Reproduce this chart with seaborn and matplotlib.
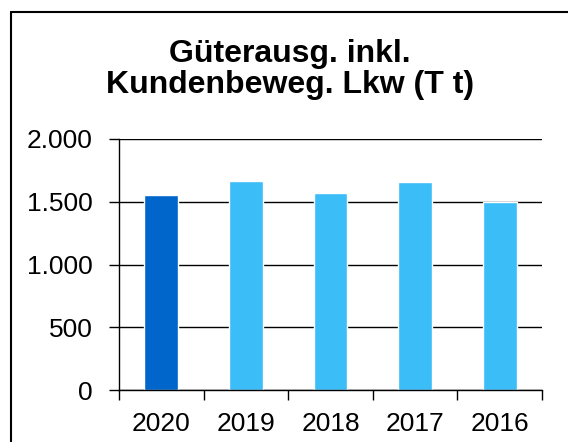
import matplotlib
matplotlib.use("Agg")
import matplotlib.pyplot as plt
import seaborn as sns
import pandas as pd
from matplotlib.lines import Line2D
from matplotlib.ticker import FuncFormatter, FixedLocator

years = ["2020", "2019", "2018", "2017", "2016"]
values = [1551, 1665, 1570, 1657, 1500]
colors = ["#0066CC", "#3BBDF8", "#3BBDF8", "#3BBDF8", "#3BBDF8"]
title_lines = ["Güterausg. inkl.", "Kundenbeweg. Lkw (T t)"]
yticks = [0, 500, 1000, 1500, 2000]

sns.set_style("white")
plt.rcParams["font.family"] = ["Liberation Sans", "DejaVu Sans"]
plt.rcParams["text.color"] = "black"
plt.rcParams["xtick.color"] = "black"
plt.rcParams["ytick.color"] = "black"

df = pd.DataFrame({"year": years, "value": values})

fig = plt.figure(figsize=(5.68, 4.42), dpi=100)
ax = fig.add_axes([119/568, 1-390/442, (542-119)/568, (390-139)/442])

sns.barplot(data=df, x="year", y="value", hue="year", palette=dict(zip(years, colors)),
            order=years, width=0.40, legend=False, ax=ax, saturation=1)

ax.set_xlim(-0.5, len(years) - 0.5)
ax.set_ylim(0, 2000)
ax.set_yticks(yticks)
ax.yaxis.set_major_formatter(FuncFormatter(lambda v, p: f"{int(v):,}".replace(",", ".")))
ax.grid(axis="y", color="black", linewidth=1.0)
ax.set_axisbelow(True)
for s in ["top", "right"]:
    ax.spines[s].set_visible(False)
for s in ["left", "bottom"]:
    ax.spines[s].set_color("black")
    ax.spines[s].set_linewidth(1.0)
ax.set_xlabel("")
ax.set_ylabel("")

ax.tick_params(axis="y", which="major", direction="out", length=7, width=1.0, color="black",
               labelsize=19, labelcolor="black", pad=12, left=True)
ax.xaxis.set_minor_locator(FixedLocator([i - 0.5 for i in range(len(years) + 1)]))
ax.tick_params(axis="x", which="major", length=0, labelsize=19, labelcolor="black", pad=16)
ax.tick_params(axis="x", which="minor", direction="out", length=7, width=1.0, color="black", bottom=True)

fig.text(290/568, 1-62/442, title_lines[0], ha="center", va="baseline", fontsize=23,
         fontweight="bold", color="black")
fig.text(290/568, 1-93/442, title_lines[1], ha="center", va="baseline", fontsize=23,
         fontweight="bold", color="black")

fig.add_artist(Line2D([11/568, 11/568], [0, 1-12/442], transform=fig.transFigure,
                      color="black", linewidth=1.5))
fig.add_artist(Line2D([11/568, 1], [1-12/442, 1-12/442], transform=fig.transFigure,
                      color="black", linewidth=1.5))

fig.savefig("out.png", dpi=100)
